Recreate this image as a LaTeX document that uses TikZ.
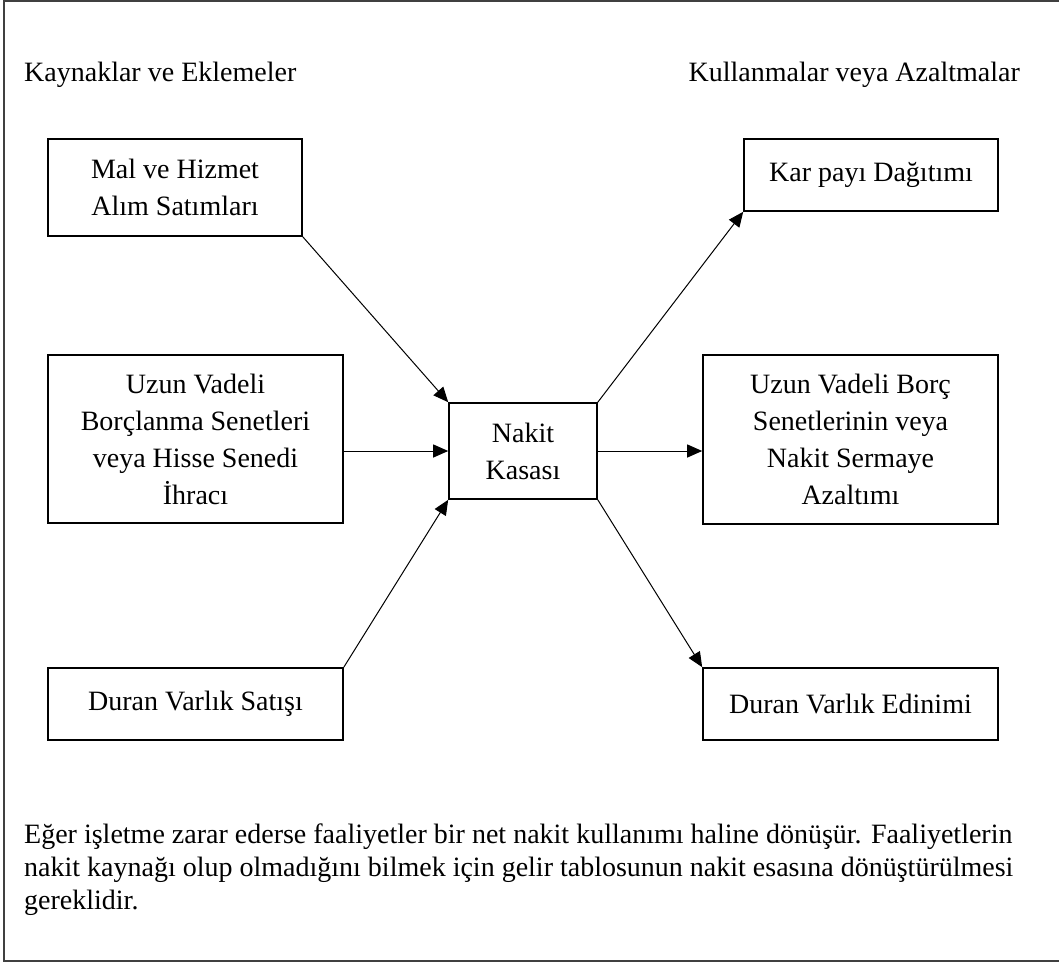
\documentclass[tikz,border=0pt]{standalone}
\usepackage{fontspec}
\setmainfont{Liberation Serif}
\usetikzlibrary{arrows.meta,positioning}
\begin{document}
\begin{tikzpicture}[x=1pt,y=-1pt,
  kutu/.style={draw,line width=1.6pt,inner sep=0pt,align=center,font=\fontsize{28}{37}\selectfont},
  ok/.style={line width=1pt,-{Triangle[length=15pt,width=13pt]}},
  yazi/.style={inner sep=0pt,font=\fontsize{28}{33}\selectfont}]
\useasboundingbox (0,0) rectangle (1059,963);
\draw[line width=2pt,black!75] (1059,1.5)--(4,1.5)--(4,961)--(1059,961);
\node[yazi,anchor=base west] (sol) at (24,82) {Kaynaklar ve Eklemeler};
\node[yazi,anchor=base east] (sag) at (1020,82) {Kullanmalar veya Azaltmalar};
% kaynaklar
\node[kutu,minimum width=254pt,minimum height=97pt] (mal) at (175,187.5) {Mal ve Hizmet\\Alım Satımları};
\node[kutu,minimum width=295pt,minimum height=168pt] (borc) at (195.5,439) {Uzun Vadeli\\Borçlanma Senetleri\\veya Hisse Senedi\\İhracı};
\node[kutu,minimum width=295pt,minimum height=72pt] (satis) at (195.5,704) {Duran Varlık Satışı};
\node[kutu,minimum width=148pt,minimum height=96pt] (kasa) at (523,451) {Nakit\\Kasası};
% kullanmalar
\node[kutu,minimum width=254pt,minimum height=72pt] (kar) at (871,175) {Kar payı Dağıtımı};
\node[kutu,minimum width=295pt,minimum height=169pt] (azalt) at (850.5,439.5) {Uzun Vadeli Borç\\Senetlerinin veya\\Nakit Sermaye\\Azaltımı};
\node[kutu,minimum width=295pt,minimum height=72pt] (edinim) at (850.5,704) {Duran Varlık Edinimi};
\draw[ok] (mal.south east)--(kasa.north west);
\draw[ok] (borc.east|-kasa)--(kasa.west);
\draw[ok] (satis.north east)--(kasa.south west);
\draw[ok] (kasa.north east)--(kar.south west);
\draw[ok] (kasa.east)--(azalt.west|-kasa);
\draw[ok] (kasa.south east)--(edinim.north west);
\node[yazi,anchor=base west,align=left] (not) at (24,909) {Eğer işletme zarar ederse faaliyetler bir net nakit kullanımı haline dönüşür. Faaliyetlerin\\nakit kaynağı olup olmadığını bilmek için gelir tablosunun nakit esasına dönüştürülmesi\\gereklidir.};
\end{tikzpicture}
\end{document}
